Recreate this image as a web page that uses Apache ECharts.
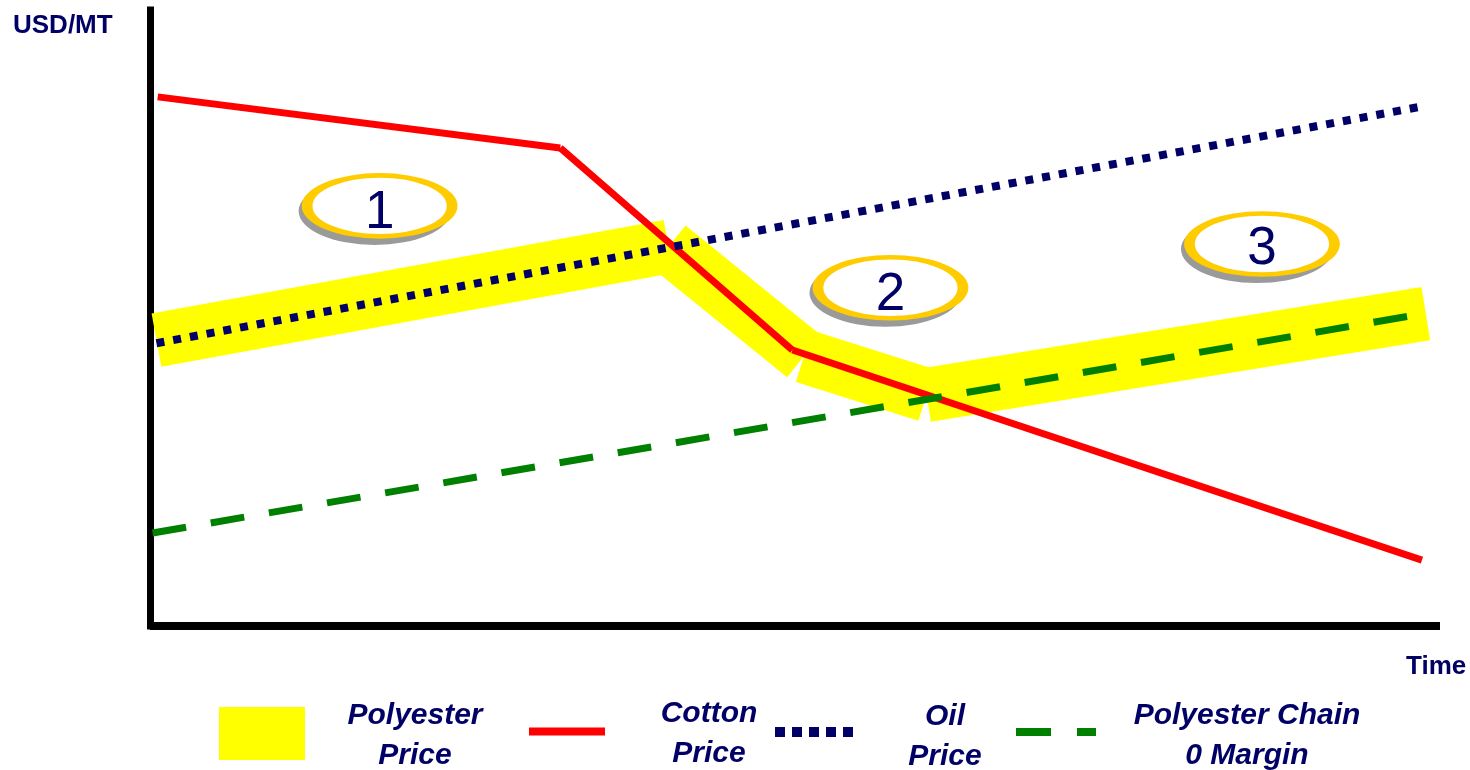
<!DOCTYPE html>
<html>
<head>
<meta charset="utf-8">
<title>Polyester vs Cotton price dynamics</title>
<script src="https://cdn.jsdelivr.net/npm/echarts@6/dist/echarts.min.js"></script>
<style>
  html, body { margin: 0; padding: 0; background: #ffffff; }
  #chart { width: 1470px; height: 770px; }
</style>
</head>
<body>
<div id="chart"></div>
<script>
// Conceptual price paths on an unscaled 0–100 axis (time left to right, USD/MT upward)
const polyesterX = [0.5, 40.2, 50.7, 60.2, 98.9];
const polyesterY = [46.4, 61.6, 43.8, 37.5, 50.7];
const cottonX = [0.6, 31.8, 49.8, 98.6];
const cottonY = [85.9, 77.6, 44.8, 10.7];
const oilX = [0.5, 98.5];
const oilY = [45.9, 84.3];
const marginX = [0.2, 99.0];
const marginY = [15.1, 50.8];

// Numbered phase markers
const phaseLabels = ['1', '2', '3'];
const phaseX = [17.8, 57.4, 86.2];
const phaseY = [68.2, 54.9, 62.0];

// Legend texts (two lines each)
const legendLabels = [
  ['Polyester', 'Price'],
  ['Cotton', 'Price'],
  ['Oil', 'Price'],
  ['Polyester Chain', '0 Margin']
];
const axisTitleY = 'USD/MT';
const axisTitleX = 'Time';

const NAVY = '#000066';
const FONT = '"Liberation Sans", Arial, Helvetica, sans-serif';

function pairs(xs, ys) {
  return xs.map((x, i) => [x, ys[i]]);
}

// Each polyline is drawn as separate butt-capped segments
function segmentSeries(name, xs, ys, lineStyle, z) {
  const pts = pairs(xs, ys);
  const out = [];
  for (let i = 0; i < pts.length - 1; i++) {
    out.push({
      name: name,
      type: 'line',
      data: [pts[i], pts[i + 1]],
      showSymbol: false,
      symbol: 'none',
      clip: false,
      silent: true,
      z: z,
      emphasis: { disabled: true },
      lineStyle: Object.assign({ cap: 'butt', join: 'miter', opacity: 1 }, lineStyle)
    });
  }
  return out;
}

// vertical nudge of each digit inside its marker
const digitNudge = [8, 8, 5];

const series = [].concat(
  segmentSeries('Polyester Price', polyesterX, polyesterY, { color: '#ffff00', width: 54 }, 2),
  segmentSeries('Cotton Price', cottonX, cottonY, { color: '#ff0000', width: 7 }, 3),
  [{
    name: 'Oil Price', type: 'line', data: pairs(oilX, oilY),
    showSymbol: false, symbol: 'none', clip: false, silent: true, z: 4,
    emphasis: { disabled: true },
    lineStyle: { color: NAVY, width: 8, type: [8, 9], cap: 'butt', opacity: 1 }
  }, {
    name: 'Polyester Chain 0 Margin', type: 'line', data: pairs(marginX, marginY),
    showSymbol: false, symbol: 'none', clip: false, silent: true, z: 5,
    emphasis: { disabled: true },
    lineStyle: { color: '#008000', width: 7, type: [34, 25], cap: 'butt', opacity: 1 }
  }, {
    // drop shadow behind each phase marker
    name: 'phase-shadow', type: 'scatter', z: 6, silent: true,
    data: pairs(phaseX, phaseY),
    symbol: 'circle', symbolSize: [152, 68], symbolOffset: [-5, 5],
    itemStyle: { color: '#9a9a9a', opacity: 1 },
    emphasis: { disabled: true }
  }, {
    name: 'phase', type: 'scatter', z: 7, silent: true,
    data: phaseX.map((x, i) => ({
      value: [x, phaseY[i]],
      label: { formatter: phaseLabels[i], offset: [0, digitNudge[i]] }
    })),
    symbol: 'circle', symbolSize: [145, 61],
    itemStyle: { color: '#ffffff', borderColor: '#ffcc00', borderWidth: 7, opacity: 1 },
    label: {
      show: true, position: 'inside',
      fontFamily: FONT, fontSize: 53, fontWeight: 'normal', color: NAVY,
      textShadowColor: 'rgba(120,120,120,0.6)', textShadowOffsetX: 2, textShadowOffsetY: 2, textShadowBlur: 0
    },
    emphasis: { disabled: true }
  }]
);

// Legend drawn as graphic elements
const legendTextStyle = { font: 'italic bold 30px ' + FONT, fill: NAVY, textAlign: 'center', textVerticalAlign: 'middle' };
const legendTextPos = [[415, 716, 756], [709, 714, 754], [945, 717, 757], [1247, 716, 756]];
const graphics = [
  { type: 'rect', shape: { x: 219, y: 707, width: 86, height: 53 }, style: { fill: '#ffff00' } },
  { type: 'line', shape: { x1: 529, y1: 731.5, x2: 605, y2: 731.5 }, style: { stroke: '#ff0000', lineWidth: 8 } },
  { type: 'line', shape: { x1: 775, y1: 732, x2: 853, y2: 732 }, style: { stroke: NAVY, lineWidth: 10, lineDash: [10, 7], lineCap: 'butt' } },
  { type: 'line', shape: { x1: 1016, y1: 732, x2: 1096, y2: 732 }, style: { stroke: '#008000', lineWidth: 8, lineDash: [35, 26], lineCap: 'butt' } },
  { type: 'text', left: 13, top: 13, style: { text: axisTitleY, font: 'bold 26px ' + FONT, fill: NAVY } },
  { type: 'text', left: 1406, top: 654, style: { text: axisTitleX, font: 'bold 26px ' + FONT, fill: NAVY } }
];
legendLabels.forEach((lines, i) => {
  const p = legendTextPos[i];
  graphics.push({ type: 'text', x: p[0], y: p[1], style: Object.assign({ text: lines[0] }, legendTextStyle) });
  graphics.push({ type: 'text', x: p[0], y: p[2], style: Object.assign({ text: lines[1] }, legendTextStyle) });
});

const chart = echarts.init(document.getElementById('chart'), null, { renderer: 'canvas' });
chart.setOption({
  animation: false,
  backgroundColor: '#ffffff',
  grid: { left: 150, right: 30, top: 10, bottom: 144, containLabel: false },
  xAxis: {
    type: 'value', min: 0, max: 100,
    axisLine: { show: true, onZero: false, lineStyle: { color: '#000000', width: 8, cap: 'butt' } },
    axisTick: { show: false }, axisLabel: { show: false }, splitLine: { show: false }
  },
  yAxis: {
    type: 'value', min: 0, max: 100,
    axisLine: { show: true, onZero: false, lineStyle: { color: '#000000', width: 7, cap: 'square' } },
    axisTick: { show: false }, axisLabel: { show: false }, splitLine: { show: false }
  },
  tooltip: { show: false },
  series: series,
  graphic: graphics
});
</script>
</body>
</html>
